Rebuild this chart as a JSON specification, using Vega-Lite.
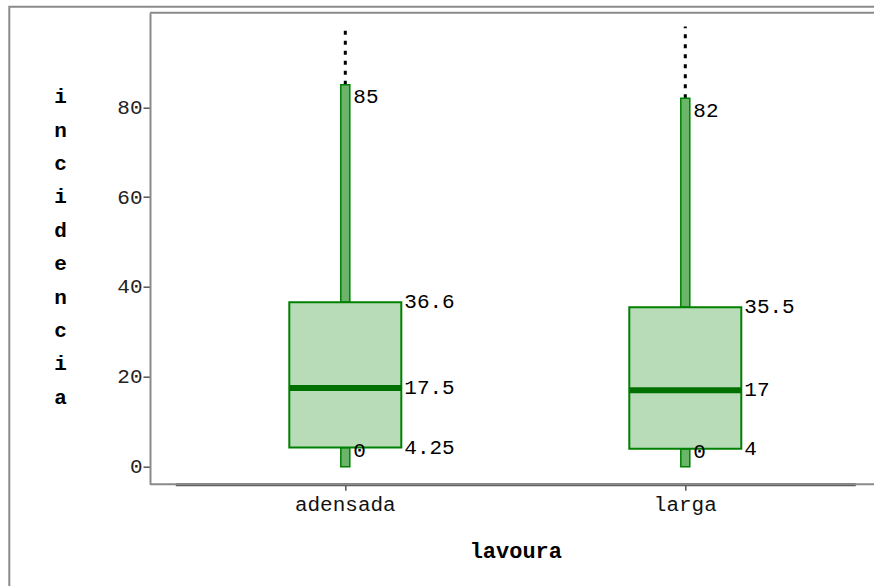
{
  "$schema": "https://vega.github.io/schema/vega-lite/v6.json",
  "width": 870,
  "height": 590,
  "autosize": "none",
  "padding": {"left": 9.3, "top": 6.7, "right": 0, "bottom": 0},
  "background": "white",
  "config": {
    "view": {"stroke": "#8a8a8a", "strokeWidth": 2},
    "font": "Liberation Mono"
  },
  "data": {
    "values": [
      {"lavoura": "adensada", "min": 0, "q1": 4.25, "median": 17.5, "q3": 36.6, "max": 85, "extremo": 98},
      {"lavoura": "larga", "min": 0, "q1": 4, "median": 17, "q3": 35.5, "max": 82, "extremo": 98}
    ]
  },
  "resolve": {"scale": {"x": "independent"}, "axis": {"x": "independent"}},
  "layer": [
    {
      "data": {"values": [{"frame": "top"}]},
      "layer": [
        {
          "mark": {"type": "rule", "color": "#8a8a8a", "strokeWidth": 2},
          "encoding": {
            "x": {"datum": 0, "type": "quantitative", "scale": {"domain": [0, 1], "range": [140.7, 875], "nice": false, "zero": false}, "axis": null},
            "x2": {"datum": 1},
            "y": {"datum": 101.06, "type": "quantitative", "title": null}
          }
        },
        {
          "mark": {"type": "rule", "color": "#8a8a8a", "strokeWidth": 2},
          "encoding": {
            "x": {"datum": 0, "type": "quantitative", "scale": {"domain": [0, 1], "range": [140.7, 875], "nice": false, "zero": false}, "axis": null},
            "x2": {"datum": 1},
            "y": {"datum": -3.92, "type": "quantitative", "title": null}
          }
        }
      ]
    },
    {
      "encoding": {
        "x": {
          "field": "lavoura",
          "type": "nominal",
          "scale": {"range": [166, 846], "paddingInner": 0, "paddingOuter": 0},
          "axis": {
            "title": "lavoura",
            "offset": -112.4,
            "domainColor": "#555555",
            "domainWidth": 3,
            "tickColor": "#555555",
            "tickSize": 6,
            "tickWidth": 1.5,
            "labelFont": "Liberation Mono",
            "labelFontSize": 21,
            "labelColor": "#111111",
            "labelPadding": 3,
            "labelAngle": 0,
            "titleFont": "Liberation Mono",
            "titleFontWeight": "bold",
            "titleFontSize": 22,
            "titleColor": "#000000",
            "titleY": 73.7,
            "titleBaseline": "alphabetic",
            "grid": false
          }
        }
      },
      "layer": [
        {
          "mark": {"type": "rule", "color": "#000000", "strokeWidth": 3, "strokeDash": [4, 6]},
          "encoding": {
            "y": {
              "field": "max",
              "type": "quantitative",
              "scale": {"domain": [-3.92, 101.06], "range": [477.6, 6], "nice": false, "zero": false},
              "axis": {
                "title": ["i", "n", "c", "i", "d", "e", "n", "c", "i", "a"],
                "titleAngle": 0,
                "titleX": -90,
                "titleY": 79,
                "titleAlign": "center",
                "titleBaseline": "top",
                "titleLineHeight": 33.4,
                "titleFont": "Liberation Mono",
                "titleFontWeight": "bold",
                "titleFontSize": 21,
                "titleColor": "#000000",
                "offset": -140.7,
                "values": [0, 20, 40, 60, 80],
                "domainColor": "#8a8a8a",
                "domainWidth": 2,
                "tickColor": "#555555",
                "tickSize": 7,
                "tickWidth": 1.5,
                "labelPadding": 1,
                "labelFont": "Liberation Mono",
                "labelFontSize": 21,
                "labelColor": "#222222",
                "grid": false
              }
            },
            "y2": {"field": "extremo"}
          }
        },
        {
          "mark": {"type": "bar", "width": 9, "fill": "#6ab56a", "stroke": "#008000", "strokeWidth": 1.5},
          "encoding": {
            "y": {"field": "q3", "type": "quantitative"},
            "y2": {"field": "max"}
          }
        },
        {
          "mark": {"type": "bar", "width": 9, "fill": "#6ab56a", "stroke": "#008000", "strokeWidth": 1.5},
          "encoding": {
            "y": {"field": "min", "type": "quantitative"},
            "y2": {"field": "q1"}
          }
        },
        {
          "mark": {"type": "bar", "width": 112, "fill": "#b8dcb8", "stroke": "#008000", "strokeWidth": 2},
          "encoding": {
            "y": {"field": "q1", "type": "quantitative"},
            "y2": {"field": "q3"}
          }
        },
        {
          "mark": {"type": "tick", "size": 112, "thickness": 6, "color": "#007000", "opacity": 1},
          "encoding": {
            "y": {"field": "median", "type": "quantitative"}
          }
        },
        {
          "mark": {"type": "text", "align": "left", "baseline": "middle", "dx": 59, "font": "Liberation Mono", "fontSize": 21, "color": "#000000"},
          "encoding": {
            "y": {"field": "q3", "type": "quantitative"},
            "text": {"field": "q3", "type": "quantitative", "format": "~g"}
          }
        },
        {
          "mark": {"type": "text", "align": "left", "baseline": "middle", "dx": 59, "font": "Liberation Mono", "fontSize": 21, "color": "#000000"},
          "encoding": {
            "y": {"field": "median", "type": "quantitative"},
            "text": {"field": "median", "type": "quantitative", "format": "~g"}
          }
        },
        {
          "mark": {"type": "text", "align": "left", "baseline": "middle", "dx": 59, "font": "Liberation Mono", "fontSize": 21, "color": "#000000"},
          "encoding": {
            "y": {"field": "q1", "type": "quantitative"},
            "text": {"field": "q1", "type": "quantitative", "format": "~g"}
          }
        },
        {
          "mark": {"type": "text", "align": "left", "baseline": "middle", "dx": 8, "dy": 12.5, "font": "Liberation Mono", "fontSize": 21, "color": "#000000"},
          "encoding": {
            "y": {"field": "max", "type": "quantitative"},
            "text": {"field": "max", "type": "quantitative", "format": "~g"}
          }
        },
        {
          "mark": {"type": "text", "align": "left", "baseline": "middle", "dx": 8, "dy": 3.5, "font": "Liberation Mono", "fontSize": 21, "color": "#000000"},
          "encoding": {
            "y": {"field": "q1", "type": "quantitative"},
            "text": {"field": "min", "type": "quantitative", "format": "~g"}
          }
        }
      ]
    }
  ]
}
